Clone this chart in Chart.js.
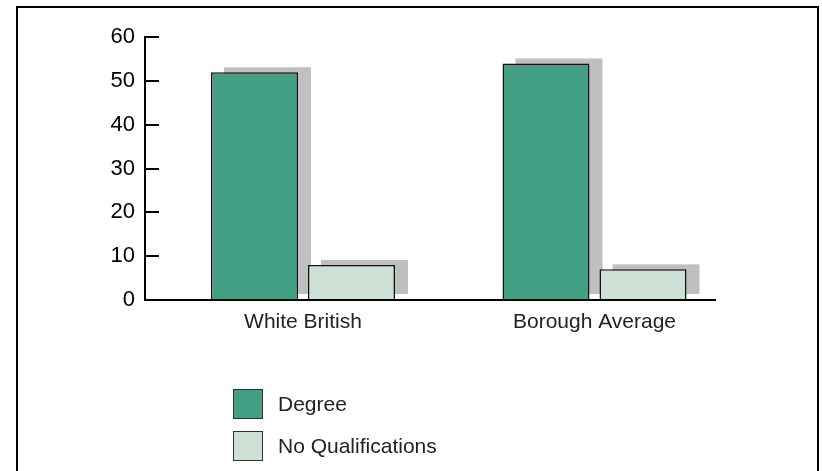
<!DOCTYPE html>
<html>
<head>
<meta charset="utf-8">
<script src="https://cdn.jsdelivr.net/npm/chart.js@4/dist/chart.umd.min.js"></script>
<style>
html,body{margin:0;padding:0;background:#fff;overflow:hidden}
#wrap{position:relative;width:822px;height:471px;overflow:hidden}
#frame{position:absolute;left:16px;top:6px;width:803px;height:600px;border:2px solid #000;box-sizing:border-box}
#chart{position:absolute;left:0;top:0}
#legend{position:absolute;left:233px;top:389px;font-family:"Liberation Sans",Arial,sans-serif;font-size:21px;color:#222}
.item{display:flex;align-items:center;height:30px;margin-bottom:12px}
.box{width:30px;height:30px;box-sizing:border-box;border:1.5px solid #333;margin-right:15px}
</style>
</head>
<body>
<div id="wrap">
  <div id="frame"></div>
  <canvas id="chart" width="822" height="471"></canvas>
  <div id="legend"></div>
</div>
<script>
const categories = ['White British', 'Borough Average'];
const seriesNames = ['Degree', 'No Qualifications'];
const degree = [52, 54];
const noQualifications = [8, 7];
const seriesColors = ['#44a085', '#cde0d5'];
const yMax = 60;
const yStep = 10;

const shadowPlugin = {
  id: 'barShadow',
  beforeDatasetsDraw(chart) {
    const ctx = chart.ctx;
    ctx.save();
    ctx.fillStyle = '#bfbfbf';
    chart.data.datasets.forEach((ds, di) => {
      const meta = chart.getDatasetMeta(di);
      meta.data.forEach(bar => {
        const p = bar.getProps(['x', 'y', 'base', 'width'], true);
        ctx.fillRect(p.x - p.width / 2 + 13, p.y - 5, p.width, p.base - p.y);
      });
    });
    ctx.restore();
  }
};

const seriesValues = [degree, noQualifications];
const datasets = seriesNames.map((name, si) => ({
  label: name,
  data: seriesValues[si].map((v, i) => ({x: i, y: v})),
  backgroundColor: seriesColors[si],
  borderColor: '#111',
  borderWidth: 1.5,
  borderSkipped: 'bottom',
  categoryPercentage: 0.6655,
  barPercentage: 0.897
}));

new Chart(document.getElementById('chart'), {
  type: 'bar',
  data: { datasets },
  options: {
    responsive: false,
    animation: false,
    events: [],
    layout: { padding: { top: 36, right: 107, left: 0, bottom: 0 } },
    plugins: { legend: { display: false }, tooltip: { enabled: false } },
    scales: {
      x: {
        type: 'linear',
        offset: false,
        bounds: 'data',
        min: -0.542,
        max: 1.4134,
        afterBuildTicks(scale) { scale.ticks = categories.map((c, i) => ({ value: i })); },
        afterFit(scale) { scale.height = 171; },
        grid: { display: true, offset: false, drawOnChartArea: false, drawTicks: false },
        border: { display: true, color: '#000', width: 2 },
        ticks: {
          autoSkip: false,
          maxRotation: 0,
          padding: 10,
          color: '#222',
          font: { family: '"Liberation Sans", Arial, sans-serif', size: 21 },
          callback: (v) => categories[v]
        }
      },
      y: {
        min: 0,
        max: yMax,
        afterFit(scale) { scale.width = 145; },
        grid: { display: true, drawOnChartArea: false, drawTicks: true, tickLength: -14, color: '#000', lineWidth: 2 },
        border: { display: true, color: '#000', width: 2 },
        ticks: {
          stepSize: yStep,
          padding: 24,
          color: '#000',
          font: { family: '"Liberation Sans", Arial, sans-serif', size: 22 }
        }
      }
    }
  },
  plugins: [shadowPlugin]
});

const legend = document.getElementById('legend');
seriesNames.forEach((name, i) => {
  const item = document.createElement('div');
  item.className = 'item';
  const box = document.createElement('div');
  box.className = 'box';
  box.style.background = seriesColors[i];
  const label = document.createElement('span');
  label.textContent = name;
  item.appendChild(box);
  item.appendChild(label);
  legend.appendChild(item);
});
</script>
</body>
</html>
